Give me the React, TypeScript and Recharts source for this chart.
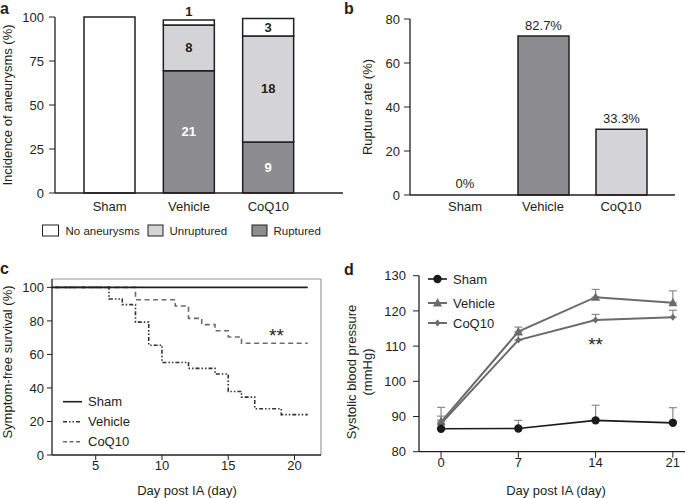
import React from "react";
import {
  BarChart,
  Bar,
  LineChart,
  Line,
  XAxis,
  YAxis,
  LabelList,
  Cell,
  ErrorBar,
  ReferenceLine,
  ReferenceDot,
} from "recharts";

const FONT = "'Liberation Sans', Arial, Helvetica, sans-serif";
const INK = "#231f20";
const DARK = "#8d8d8f";
const LIGHT = "#d4d4d6";
const MID = "#6b6b6b";
const ERR = "#8a8a8a";

// panel a - incidence of aneurysms (%)
const groups = ["Sham", "Vehicle", "CoQ10"];
const rupturedPct = [0, 69.5, 29];
const unrupturedPct = [0, 26, 60.2];
const noAneurysmPct = [100, 2.8, 10];
const rupturedN = [null, 21, 9];
const unrupturedN = [null, 8, 18];
const noAneurysmN = [null, 1, 3];

// panel b - rupture rate (%)
const ruptureRate = [0, 72.3, 29.9];
const ruptureLabels = ["0%", "82.7%", "33.3%"];

// panel c - symptom-free survival (%)
const shamDays = [0, 21];
const shamSurv = [100, 100];
const vehicleDays = [0, 6, 7, 8, 9, 10, 12, 14, 15, 16, 17, 19, 21];
const vehicleSurv = [100, 93.1, 89.7, 79.3, 65.5, 55.2, 51.7, 48.3, 37.9, 34.5, 27.6, 24.1, 24.1];
const coqDays = [0, 8, 11, 12, 13, 14, 15, 16, 21];
const coqSurv = [100, 92.6, 88.9, 81.5, 77.8, 74.1, 70.4, 66.7, 66.7];

// panel d - systolic blood pressure (mmHg)
const bpDays = [0, 7, 14, 21];
const shamBP = [86.5, 86.6, 88.9, 88.2];
const shamSD = [3.6, 2.3, 4.3, 4.3];
const vehicleBP = [88.5, 114.1, 123.9, 122.3];
const vehicleSD = [4.1, 1.3, 2.2, 3.4];
const coqBP = [88, 111.7, 117.4, 118.2];
const coqSD = [1, 1.5, 1.6, 2.0];

const dataA = groups.map((g, i) => ({
  group: g,
  ruptured: rupturedPct[i],
  unruptured: unrupturedPct[i],
  none: noAneurysmPct[i],
  rN: rupturedN[i],
  uN: unrupturedN[i],
  nN: noAneurysmN[i],
}));
const dataB = groups.map((g, i) => ({ group: g, rate: ruptureRate[i], label: ruptureLabels[i] }));
const barFillsB = ["#ffffff", DARK, LIGHT];
const toSeries = (days: number[], vals: number[]) => days.map((d, i) => ({ day: d, surv: vals[i] }));
const shamC = toSeries(shamDays, shamSurv);
const vehicleC = toSeries(vehicleDays, vehicleSurv);
const coqC = toSeries(coqDays, coqSurv);
const dataD = bpDays.map((d, i) => ({
  day: d,
  sham: shamBP[i],
  shamE: [0, shamSD[i]],
  vehicle: vehicleBP[i],
  vehicleE: [0, vehicleSD[i]],
  coq: coqBP[i],
  coqE: [0, coqSD[i]],
}));

const tickStyle = { fill: INK, fontSize: 13 };

const segLabel = (fill: string) => (p: any) => {
  const vb = p.viewBox && p.viewBox.width != null ? p.viewBox : p;
  const { value } = p;
  if (value == null) return null;
  const x = Number(vb.x), y = Number(vb.y), w = Number(vb.width), h = Number(vb.height);
  const small = h < 14;
  return (
    <text
      x={x + w / 2}
      y={small ? y - 4 : y + h / 2}
      textAnchor="middle"
      dominantBaseline={small ? "auto" : "central"}
      fill={small ? INK : fill}
      fontSize={13}
      fontWeight="bold"
    >
      {value}
    </text>
  );
};

const vLabel = (text: string, cx: number, cy: number) => () => (
  <text
    x={cx}
    y={cy}
    transform={`rotate(-90 ${cx} ${cy})`}
    textAnchor="middle"
    dominantBaseline="central"
    fill={INK}
    fontSize={13}
  >
    {text}
  </text>
);

const hLabel = (text: string, cx: number, cy: number) => () => (
  <text x={cx} y={cy} textAnchor="middle" dominantBaseline="central" fill={INK} fontSize={13}>
    {text}
  </text>
);

const stars = (p: any) => (
  <text x={p.cx} y={p.cy} textAnchor="middle" fill={INK} fontSize={19}>
    **
  </text>
);

// label for a bar of zero height (Recharts skips it in LabelList)
const zeroBarLabel = (text: string) => (p: any) => (
  <text x={p.cx} y={p.cy - 7} textAnchor="middle" fill={INK} fontSize={13}>
    {text}
  </text>
);

const Triangle = (p: any) => {
  const { cx, cy, index } = p;
  if (cx == null || cy == null) return <g key={`t${index}`} />;
  return <path key={`t${index}`} d={`M${cx},${cy - 5}L${cx - 4.5},${cy + 3.5}L${cx + 4.5},${cy + 3.5}Z`} fill={MID} />;
};
const Diamond = (p: any) => {
  const { cx, cy, index } = p;
  if (cx == null || cy == null) return <g key={`d${index}`} />;
  return <path key={`d${index}`} d={`M${cx},${cy - 3.5}L${cx + 3},${cy}L${cx},${cy + 3.5}L${cx - 3},${cy}Z`} fill={MID} />;
};

function PanelA() {
  return (
    <BarChart width={345} height={245} data={dataA} margin={{ top: 17, right: 2, left: 0, bottom: 22 }}>
      <XAxis
        dataKey="group"
        tickLine={false}
        axisLine={{ stroke: INK, strokeWidth: 1.3 }}
        tick={tickStyle}
        tickMargin={3}
        padding={{ left: 15, right: 35 }}
      />
      <YAxis
        width={55}
        domain={[0, 100]}
        ticks={[0, 25, 50, 75, 100]}
        axisLine={{ stroke: INK, strokeWidth: 1.3 }}
        tickLine={{ stroke: INK }}
        tickSize={6}
        tickMargin={5}
        tick={tickStyle}
        label={{ content: vLabel("Incidence of aneurysms (%)", 7, 105) }}
      />
      <Bar dataKey="ruptured" stackId="s" barSize={51} fill={DARK} stroke={INK} strokeWidth={1.5} isAnimationActive={false}>
        <LabelList dataKey="rN" content={segLabel("#ffffff")} />
      </Bar>
      <Bar dataKey="unruptured" stackId="s" barSize={51} fill={LIGHT} stroke={INK} strokeWidth={1.5} isAnimationActive={false}>
        <LabelList dataKey="uN" content={segLabel(INK)} />
      </Bar>
      <Bar dataKey="none" stackId="s" barSize={51} fill="#ffffff" stroke={INK} strokeWidth={1.5} isAnimationActive={false}>
        <LabelList dataKey="nN" content={segLabel(INK)} />
      </Bar>
    </BarChart>
  );
}

function PanelB() {
  return (
    <BarChart width={345} height={245} data={dataB} margin={{ top: 19, right: 10, left: 0, bottom: 20 }}>
      <XAxis
        dataKey="group"
        tickLine={false}
        axisLine={{ stroke: INK, strokeWidth: 1.3 }}
        tick={tickStyle}
        tickMargin={1}
        padding={{ left: 16, right: 15 }}
      />
      <YAxis
        width={70}
        domain={[0, 80]}
        ticks={[0, 20, 40, 60, 80]}
        axisLine={{ stroke: INK, strokeWidth: 1.3 }}
        tickLine={{ stroke: INK }}
        tickSize={6}
        tickMargin={4}
        tick={tickStyle}
        label={{ content: vLabel("Rupture rate (%)", 27.5, 107) }}
      />
      <Bar dataKey="rate" barSize={51} stroke={INK} strokeWidth={1.5} isAnimationActive={false}>
        {dataB.map((d, i) => (
          <Cell key={d.group} fill={barFillsB[i]} />
        ))}
        <LabelList dataKey="label" position="top" offset={6} fill={INK} fontSize={13} />
      </Bar>
      {dataB
        .filter((d) => d.rate === 0)
        .map((d) => (
          <ReferenceDot key={d.group} x={d.group} y={d.rate} r={0} shape={zeroBarLabel(d.label)} />
        ))}
    </BarChart>
  );
}

function PanelC() {
  return (
    <LineChart width={345} height={248} margin={{ top: 29, right: 24, left: 0, bottom: 0 }}>
      <XAxis
        type="number"
        dataKey="day"
        domain={[1.7, 22]}
        ticks={[5, 10, 15, 20]}
        allowDataOverflow
        height={43}
        axisLine={{ stroke: INK, strokeWidth: 1.3 }}
        tickLine={{ stroke: INK }}
        tickSize={5}
        tickMargin={1}
        tick={tickStyle}
        label={{ content: hLabel("Day post IA (day)", 187, 240.5) }}
      />
      <YAxis
        width={52}
        domain={[0, 105]}
        ticks={[0, 20, 40, 60, 80, 100]}
        allowDataOverflow
        axisLine={{ stroke: INK, strokeWidth: 1.3 }}
        tickLine={{ stroke: INK }}
        tickSize={5}
        tickMargin={3}
        tick={tickStyle}
        label={{ content: vLabel("Symptom-free survival (%)", 7, 112) }}
      />
      <ReferenceLine y={105} stroke="#9a9a9a" strokeWidth={1.2} />
      <ReferenceLine x={22} stroke="#9a9a9a" strokeWidth={1.2} />
      <Line data={coqC} dataKey="surv" type="stepAfter" dot={false} stroke={MID} strokeWidth={1.6} strokeDasharray="5 3.5" isAnimationActive={false} />
      <Line data={vehicleC} dataKey="surv" type="stepAfter" dot={false} stroke="#333" strokeWidth={1.6} strokeDasharray="4 2 1.5 2 1.5 2" isAnimationActive={false} />
      <Line data={shamC} dataKey="surv" type="stepAfter" dot={false} stroke={INK} strokeWidth={1.6} isAnimationActive={false} />
      <ReferenceDot x={18.64} y={67.2} r={0} shape={stars} />
    </LineChart>
  );
}

function PanelD() {
  return (
    <LineChart width={345} height={248} data={dataD} margin={{ top: 25.7, right: 0, left: 0, bottom: 0 }}>
      <XAxis
        type="number"
        dataKey="day"
        domain={[-2, 22.1]}
        ticks={[0, 7, 14, 21]}
        allowDataOverflow
        height={46.3}
        axisLine={{ stroke: INK, strokeWidth: 1.3 }}
        tickLine={{ stroke: INK }}
        tickSize={6}
        tickMargin={0}
        tick={tickStyle}
        label={{ content: hLabel("Day post IA (day)", 216, 240) }}
      />
      <YAxis
        width={79}
        domain={[80, 130]}
        ticks={[80, 90, 100, 110, 120, 130]}
        axisLine={{ stroke: INK, strokeWidth: 1.3 }}
        tickLine={{ stroke: INK }}
        tickSize={6}
        tickMargin={7}
        tick={tickStyle}
        label={{
          content: () => (
            <g>
              {vLabel("Systolic blood pressure", 11, 122)()}
              {vLabel("(mmHg)", 27.5, 122)()}
            </g>
          ),
        }}
      />
      <Line dataKey="coq" stroke={MID} strokeWidth={2} dot={Diamond} activeDot={false} isAnimationActive={false}>
        <ErrorBar dataKey="coqE" direction="y" width={4} stroke={ERR} strokeWidth={1.2} />
      </Line>
      <Line dataKey="vehicle" stroke={MID} strokeWidth={2} dot={Triangle} activeDot={false} isAnimationActive={false}>
        <ErrorBar dataKey="vehicleE" direction="y" width={4} stroke={ERR} strokeWidth={1.2} />
      </Line>
      <Line
        dataKey="sham"
        stroke="#1a1a1a"
        strokeWidth={1.6}
        dot={{ r: 4.2, fill: "#1a1a1a", stroke: "#1a1a1a", strokeWidth: 0 }}
        activeDot={false}
        isAnimationActive={false}
      >
        <ErrorBar dataKey="shamE" direction="y" width={4} stroke={ERR} strokeWidth={1.2} />
      </Line>
      <ReferenceDot x={14} y={108.7} r={0} shape={stars} />
    </LineChart>
  );
}

function Overlay() {
  const t = { fill: INK, fontFamily: FONT };
  return (
    <svg width={685} height={498} style={{ position: "absolute", left: 0, top: 0, pointerEvents: "none" }}>
      <g fontWeight="bold" fontSize={16} {...t}>
        <text x={0} y={13.5}>a</text>
        <text x={344} y={13.5}>b</text>
        <text x={0} y={274}>c</text>
        <text x={344} y={275}>d</text>
      </g>
      {/* legend a */}
      <g fontSize={11.5} {...t} dominantBaseline="central">
        <rect x={42.5} y={225} width={16} height={11} fill="#ffffff" stroke={INK} strokeWidth={1} />
        <text x={65.5} y={230.5}>No aneurysms</text>
        <rect x={148} y={225} width={15} height={11} fill={LIGHT} stroke={INK} strokeWidth={1} />
        <text x={169.5} y={230.5}>Unruptured</text>
        <rect x={252} y={225} width={15} height={11} fill={DARK} stroke={INK} strokeWidth={1} />
        <text x={273.5} y={230.5}>Ruptured</text>
      </g>
      {/* legend c */}
      <g fontSize={13} {...t} dominantBaseline="central">
        <line x1={63} x2={82} y1={401.7} y2={401.7} stroke={INK} strokeWidth={1.6} />
        <text x={88} y={401.7}>Sham</text>
        <line x1={63} x2={82} y1={421.7} y2={421.7} stroke="#333" strokeWidth={1.6} strokeDasharray="4 2 1.5 2 1.5 2" />
        <text x={88} y={421.7}>Vehicle</text>
        <line x1={63} x2={82} y1={441.7} y2={441.7} stroke={MID} strokeWidth={1.6} strokeDasharray="4 2.5" />
        <text x={88} y={441.7}>CoQ10</text>
      </g>
      {/* legend d */}
      <g fontSize={13} {...t} dominantBaseline="central">
        <line x1={428} x2={447} y1={279} y2={279} stroke="#1a1a1a" strokeWidth={1.6} />
        <circle cx={437.5} cy={279} r={4.2} fill="#1a1a1a" />
        <text x={453} y={279}>Sham</text>
        <line x1={428} x2={447} y1={303} y2={303} stroke={MID} strokeWidth={2} />
        <path d="M437.5,298L433,306.5L442,306.5Z" fill={MID} />
        <text x={453} y={303}>Vehicle</text>
        <line x1={428} x2={447} y1={323} y2={323} stroke={MID} strokeWidth={2} />
        <path d="M437.5,319.5L440.5,323L437.5,326.5L434.5,323Z" fill={MID} />
        <text x={453} y={323}>CoQ10</text>
      </g>
    </svg>
  );
}

export default function App() {
  return (
    <div
      style={{
        position: "absolute",
        left: 0,
        top: 0,
        width: 685,
        height: 498,
        background: "#ffffff",
        fontFamily: FONT,
        overflow: "hidden",
      }}
    >
      <div style={{ position: "absolute", left: 0, top: 0 }}>
        <PanelA />
      </div>
      <div style={{ position: "absolute", left: 340, top: 0 }}>
        <PanelB />
      </div>
      <div style={{ position: "absolute", left: 0, top: 250 }}>
        <PanelC />
      </div>
      <div style={{ position: "absolute", left: 340, top: 250 }}>
        <PanelD />
      </div>
      <Overlay />
    </div>
  );
}
